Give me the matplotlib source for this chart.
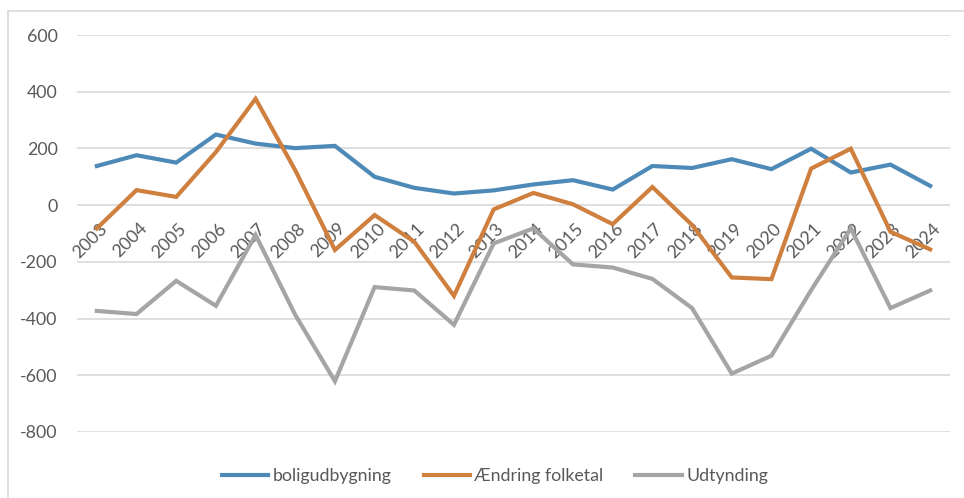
import matplotlib
matplotlib.use("Agg")
import matplotlib.pyplot as plt
from matplotlib.patches import Rectangle
from matplotlib.transforms import offset_copy

years = [str(y) for y in range(2003, 2025)]
boligudbygning = [138, 176, 150, 249, 217, 201, 209, 100, 61, 41, 52, 73, 88, 55,
                  138, 131, 162, 127, 199, 115, 143, 68]
aendring_folketal = [-82, 53, 29, 187, 375, 123, -158, -35, -129, -320, -15, 43, 3, -67,
                     64, -70, -255, -261, 129, 199, -94, -156]
udtynding = [-373, -384, -267, -355, -105, -387, -621, -289, -301, -422, -135, -82, -209, -220,
             -260, -363, -594, -531, -300, -82, -363, -301]
series_names = ["boligudbygning", "Ændring folketal", "Udtynding"]
y_ticks = [600, 400, 200, 0, -200, -400, -600, -800]

colors = ["#4E8AB8", "#D0803E", "#A5A5A5"]
text_color = "#595959"
grid_color = "#D9D9D9"

plt.rcParams['font.family'] = ['Lato', 'DejaVu Sans']

W, H = 964, 498
fig = plt.figure(figsize=(W / 100, H / 100), dpi=100)
fig.patch.set_facecolor("white")

# outer chart frame (only left/top visible in reference)
fig.patches.append(Rectangle((8 / W, -0.1), 1.2, (H - 11) / H + 0.1,
                             transform=fig.transFigure, fill=False,
                             edgecolor=grid_color, lw=1.2))

left, right, top, bottom = 77, 950, 35, 432
ax = fig.add_axes([left / W, 1 - bottom / H, (right - left) / W, (bottom - top) / H])
ax.set_xlim(-0.5, len(years) - 0.5)
ax.set_ylim(-800, 600)
for s in ax.spines.values():
    s.set_visible(False)
ax.set_yticks(y_ticks)
ax.set_yticklabels([str(v) for v in y_ticks])
ax.tick_params(axis='y', length=0, pad=14, labelsize=12.8, labelcolor=text_color)
ax.set_xticks([])
ax.grid(axis='y', color=grid_color, lw=1.2)
ax.set_axisbelow(True)

x = list(range(len(years)))
for vals, name, c in zip([boligudbygning, aendring_folketal, udtynding], series_names, colors):
    ax.plot(x, vals, color=c, lw=3.0, label=name, solid_joinstyle='miter', zorder=3)

# category labels placed at the zero line, rotated 45°
for i, lab in enumerate(years):
    tr = offset_copy(ax.transData, fig=fig, x=2, y=-15, units='dots')
    ax.text(i, 0, lab, transform=tr, rotation=45, rotation_mode='anchor',
            ha='right', va='top', fontsize=12.8, color=text_color, zorder=2)

leg = fig.legend(loc='center', bbox_to_anchor=(0.5 + 13 / W, 1 - 476 / H), ncol=3, frameon=False,
                 fontsize=12.8, handlelength=2.6, handletextpad=0.25, columnspacing=1.8)
for t in leg.get_texts():
    t.set_color(text_color)

fig.savefig("out.png", dpi=100, facecolor="white")
